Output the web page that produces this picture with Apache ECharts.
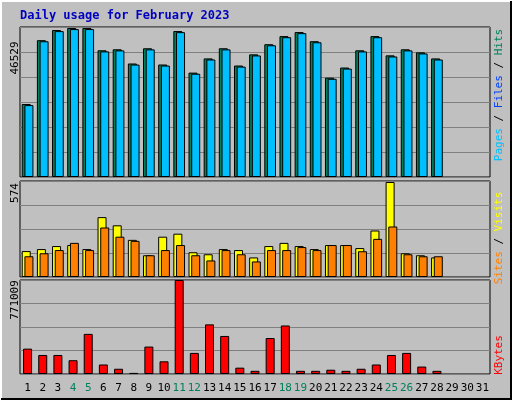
<!DOCTYPE html><html><head><meta charset="utf-8">
<script src="https://cdn.jsdelivr.net/npm/echarts@6/dist/echarts.min.js"></script>
<style>html,body{margin:0;padding:0;background:#C0C0C0}#c{width:512px;height:400px}</style></head><body><div id="c"></div>
<script>
const days=[];for(let i=1;i<=31;i++)days.push(String(i));
const weekend=[4,5,11,12,18,19,25,26];
const hits=[22640,42440,45590,46220,46220,39300,39610,35210,39930,34900,45270,32380,36790,39930,34580,38040,41190,43700,44960,42130,30810,33960,39300,43700,37730,39610,38670,36790];
const files=[22300,42100,45250,45880,45880,38960,39270,34870,39590,34560,44930,32040,36450,39590,34240,37700,40850,43360,44620,41790,30470,33620,38960,43360,37390,39270,38330,36450];
const visits=[155,167,185,191,167,358,309,222,130,241,259,148,136,167,161,117,185,204,185,167,191,191,173,278,568,142,130,117];
const sites=[124,142,161,204,161,296,241,216,130,161,191,130,99,161,136,93,161,161,179,161,191,191,154,228,302,136,124,124];
const kbytes=[208000,156000,156000,113000,329000,78000,43000,9000,225000,104000,771009,173000,407000,312000,52000,26000,295000,398000,26000,26000,35000,26000,43000,78000,156000,173000,61000,26000];
const maxHits=46529,maxVis=574,maxKB=771009;
const pad=a=>a.concat(Array(31-a.length).fill(null));
const grids=[{left:20,right:22,top:27,height:150},{left:20,right:22,top:181,height:96},{left:20,right:22,top:280,height:94}];
const xa=grids.map((g,i)=>({type:'category',gridIndex:i,data:days,boundaryGap:true,axisLine:{show:false},axisTick:{show:false},
 axisLabel:i<2?{show:false}:{interval:0,fontFamily:'DejaVu Sans Mono',fontSize:11,margin:9,
 formatter:v=>weekend.includes(+v)?'{w|'+v+'}':'{n|'+v+'}',rich:{w:{color:'#00805C',fontFamily:'DejaVu Sans Mono',fontSize:11},n:{color:'#000',fontFamily:'DejaVu Sans Mono',fontSize:11}}}}));
const mk=(i,max,n)=>({type:'value',gridIndex:i,min:0,max:max,interval:max/n,axisLabel:{show:false},axisLine:{show:false},axisTick:{show:false},splitLine:{lineStyle:{color:'#808080',width:1}}});
const ya=[mk(0,maxHits,6),mk(1,maxVis,4),mk(2,maxKB,4)];
const b=(data,i,color,w,gap)=>({type:'bar',xAxisIndex:i,yAxisIndex:i,data:pad(data),barWidth:w,barGap:gap,itemStyle:{color:color,borderColor:'#000',borderWidth:1},animation:false,silent:true});
const chart=echarts.init(document.getElementById('c'));
const rt=(x,y,rich,text)=>({type:'text',x:x,y:y,rotation:Math.PI/2,style:{text:text,rich:rich,font:'11px DejaVu Sans Mono',align:'center',verticalAlign:'middle'}});
chart.setOption({backgroundColor:'#C0C0C0',animation:false,
 grid:grids.map(g=>Object.assign({show:true,backgroundColor:'#C0C0C0',borderColor:'#000',borderWidth:1},g)),
 xAxis:xa,yAxis:ya,
 series:[b(hits,0,'#00805C',9,'-70%'),b(files,0,'#00BFFF',9,'-70%'),
  b(visits,1,'#FFFF00',9,'-70%'),b(sites,1,'#FF8000',9,'-70%'),
  b(kbytes,2,'#FF0000',9,'0%')],
 graphic:[
  {type:'rect',shape:{x:1,y:1,width:510,height:398},style:{fill:'none',stroke:'#fff',lineWidth:2}},
  {type:'polyline',shape:{points:[[511,1],[511,399],[1,399]]},style:{stroke:'#000',lineWidth:2,fill:'none'}},
  {type:'text',x:20,y:10,style:{text:'Daily usage for February 2023',font:'bold 12px DejaVu Sans Mono',fill:'#0000C0'}},
  {type:'text',x:15,y:58,rotation:Math.PI/2,style:{text:'46529',font:'11px DejaVu Sans Mono',fill:'#000',align:'center',verticalAlign:'middle'}},
  {type:'text',x:15,y:193,rotation:Math.PI/2,style:{text:'574',font:'11px DejaVu Sans Mono',fill:'#000',align:'center',verticalAlign:'middle'}},
  {type:'text',x:15,y:300,rotation:Math.PI/2,style:{text:'771009',font:'11px DejaVu Sans Mono',fill:'#000',align:'center',verticalAlign:'middle'}},
  rt(499,95,{p:{fill:'#00C0FF'},s:{fill:'#000'},f:{fill:'#0040FF'},h:{fill:'#00805C'}},'{p|Pages}{s| / }{f|Files}{s| / }{h|Hits}'),
  rt(499,238,{v:{fill:'#FFFF00'},s:{fill:'#000'},t:{fill:'#FF8000'}},'{t|Sites}{s| / }{v|Visits}'),
  rt(499,355,{k:{fill:'#FF0000'}},'{k|KBytes}')
 ]});
</script></body></html>
